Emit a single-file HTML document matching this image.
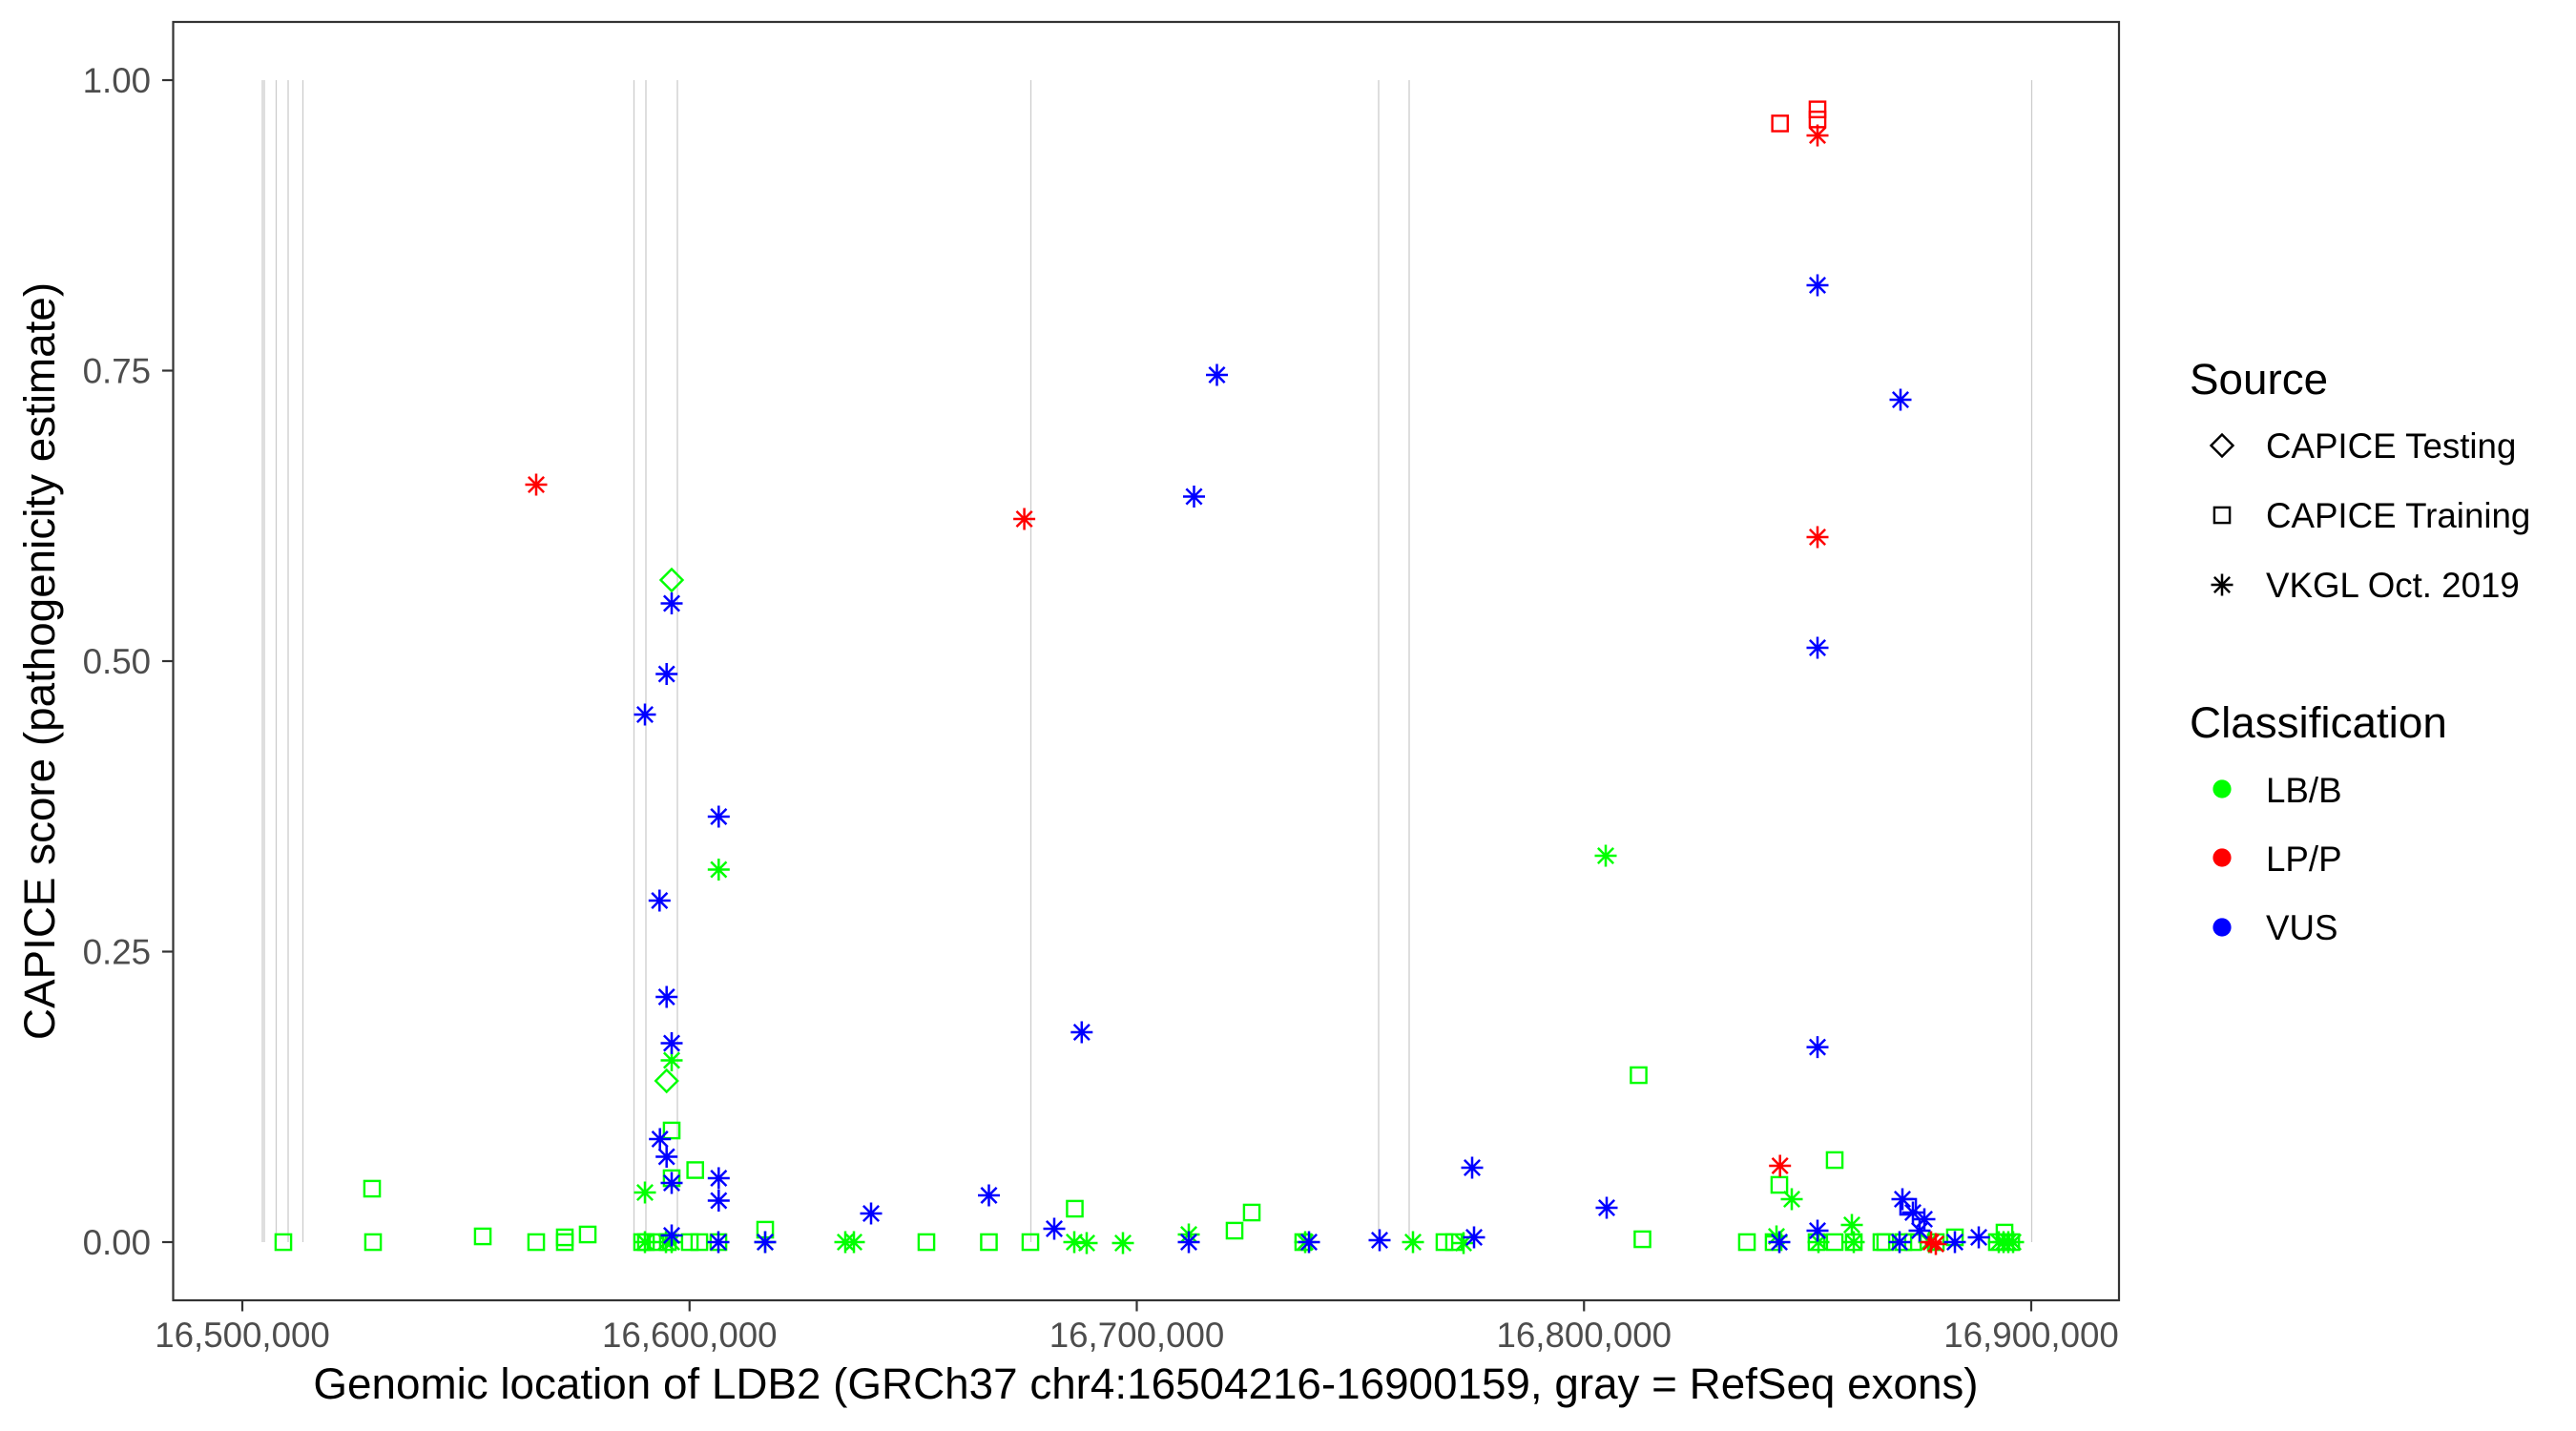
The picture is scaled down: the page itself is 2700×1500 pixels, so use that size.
<!DOCTYPE html>
<html>
<head>
<meta charset="utf-8">
<style>
html,body{margin:0;padding:0;background:#fff;}
svg{display:block;}
text{font-family:"Liberation Sans",Arial,sans-serif;}
</style>
</head>
<body>
<svg width="2700" height="1500" viewBox="0 0 2700 1500" xmlns="http://www.w3.org/2000/svg">
<defs>
<path id="st" d="M-11.5 0H11.5M0 -11.5V11.5M-8.13 -8.13L8.13 8.13M-8.13 8.13L8.13 -8.13" fill="none" stroke-width="2.5"/>
<rect id="sq" x="-8.1" y="-8.1" width="16.2" height="16.2" fill="none" stroke-width="2.4"/>
<path id="dm" d="M0 -11.5L11.5 0L0 11.5L-11.5 0Z" fill="none" stroke-width="2.4"/>
</defs>
<rect width="2700" height="1500" fill="#fff"/>

<g stroke="#cccccc" stroke-width="1.3">
<line x1="275" y1="84" x2="275" y2="1302"/>
<line x1="277" y1="84" x2="277" y2="1302"/>
<line x1="289.5" y1="84" x2="289.5" y2="1302"/>
<line x1="302" y1="84" x2="302" y2="1302"/>
<line x1="317.5" y1="84" x2="317.5" y2="1302"/>
<line x1="664.5" y1="84" x2="664.5" y2="1302"/>
<line x1="677" y1="84" x2="677" y2="1302"/>
<line x1="710" y1="84" x2="710" y2="1302"/>
<line x1="1080.5" y1="84" x2="1080.5" y2="1302"/>
<line x1="1445" y1="84" x2="1445" y2="1302"/>
<line x1="1477" y1="84" x2="1477" y2="1302"/>
<line x1="2129.5" y1="84" x2="2129.5" y2="1302"/>
</g>

<g stroke="#00ff00">
<use href="#sq" x="297" y="1302"/>
<use href="#sq" x="390" y="1246"/>
<use href="#sq" x="391" y="1302"/>
<use href="#sq" x="506" y="1296"/>
<use href="#sq" x="562" y="1302"/>
<use href="#sq" x="592" y="1297"/>
<use href="#sq" x="592" y="1302"/>
<use href="#sq" x="616" y="1294"/>
<use href="#sq" x="673" y="1302"/>
<use href="#sq" x="677" y="1302"/>
<use href="#sq" x="687" y="1302"/>
<use href="#sq" x="700" y="1302"/>
<use href="#sq" x="704" y="1185"/>
<use href="#sq" x="704" y="1235"/>
<use href="#sq" x="723" y="1302"/>
<use href="#sq" x="733" y="1302"/>
<use href="#sq" x="728.7" y="1226.5"/>
<use href="#sq" x="753" y="1302"/>
<use href="#sq" x="802" y="1289"/>
<use href="#sq" x="971" y="1302"/>
<use href="#sq" x="1036.5" y="1302"/>
<use href="#sq" x="1080" y="1302"/>
<use href="#sq" x="1126.5" y="1267"/>
<use href="#sq" x="1294" y="1290"/>
<use href="#sq" x="1312" y="1271"/>
<use href="#sq" x="1366" y="1302"/>
<use href="#sq" x="1514" y="1302"/>
<use href="#sq" x="1524" y="1302"/>
<use href="#sq" x="1717.5" y="1127"/>
<use href="#sq" x="1721.5" y="1299"/>
<use href="#sq" x="1831" y="1302"/>
<use href="#sq" x="1859" y="1302"/>
<use href="#sq" x="1865" y="1242"/>
<use href="#sq" x="1904" y="1302"/>
<use href="#sq" x="1923" y="1216"/>
<use href="#sq" x="1923" y="1302"/>
<use href="#sq" x="1943" y="1302"/>
<use href="#sq" x="1972" y="1302"/>
<use href="#sq" x="1976" y="1302"/>
<use href="#sq" x="1995" y="1302"/>
<use href="#sq" x="2005" y="1302"/>
<use href="#sq" x="2029" y="1302"/>
<use href="#sq" x="2049" y="1297"/>
<use href="#sq" x="2093" y="1302"/>
<use href="#sq" x="2101" y="1292"/>
<use href="#sq" x="2108" y="1302"/>
</g>
<g stroke="#ff0000">
<use href="#sq" x="1865.7" y="129.4"/>
<use href="#sq" x="1905" y="114.7"/>
<use href="#sq" x="1905" y="125.2"/>
</g>
<g stroke="#0000ff">
<use href="#sq" x="2000" y="1265"/>
</g>
<g stroke="#00ff00">
<use href="#dm" x="704" y="608"/>
<use href="#dm" x="698.7" y="1133"/>
</g>

<g stroke="#00ff00">
<use href="#st" x="676" y="1250"/>
<use href="#st" x="704" y="1111.5"/>
<use href="#st" x="753.3" y="911.5"/>
<use href="#st" x="676" y="1302"/>
<use href="#st" x="698" y="1302"/>
<use href="#st" x="704" y="1302"/>
<use href="#st" x="802" y="1302"/>
<use href="#st" x="886" y="1302"/>
<use href="#st" x="895" y="1302"/>
<use href="#st" x="1126" y="1302"/>
<use href="#st" x="1139" y="1303"/>
<use href="#st" x="1177" y="1303"/>
<use href="#st" x="1246" y="1294"/>
<use href="#st" x="1368" y="1302"/>
<use href="#st" x="1481" y="1302"/>
<use href="#st" x="1534" y="1303"/>
<use href="#st" x="1683" y="897"/>
<use href="#st" x="1878" y="1257"/>
<use href="#st" x="1862" y="1296"/>
<use href="#st" x="1906" y="1302"/>
<use href="#st" x="1941" y="1284"/>
<use href="#st" x="1943" y="1302"/>
<use href="#st" x="2022" y="1302"/>
<use href="#st" x="2095" y="1302"/>
<use href="#st" x="2100" y="1302"/>
<use href="#st" x="2105" y="1302"/>
<use href="#st" x="2110" y="1302"/>
</g>
<g stroke="#ff0000">
<use href="#st" x="562" y="508"/>
<use href="#st" x="1073.6" y="544"/>
<use href="#st" x="1905" y="142"/>
<use href="#st" x="1905" y="563"/>
<use href="#st" x="1865.7" y="1222"/>
<use href="#st" x="2024" y="1302"/>
<use href="#st" x="2029" y="1304"/>
</g>
<g stroke="#0000ff">
<use href="#st" x="1275.5" y="393"/>
<use href="#st" x="1251.5" y="520.5"/>
<use href="#st" x="1905" y="299"/>
<use href="#st" x="1992" y="419"/>
<use href="#st" x="1905" y="679"/>
<use href="#st" x="1905" y="1097.6"/>
<use href="#st" x="1133.8" y="1082"/>
<use href="#st" x="704" y="632.5"/>
<use href="#st" x="698.7" y="706.5"/>
<use href="#st" x="676" y="749"/>
<use href="#st" x="753.3" y="856"/>
<use href="#st" x="691.3" y="944"/>
<use href="#st" x="698.7" y="1045"/>
<use href="#st" x="704" y="1093.5"/>
<use href="#st" x="691.7" y="1194"/>
<use href="#st" x="698.7" y="1212.5"/>
<use href="#st" x="753.3" y="1235"/>
<use href="#st" x="753.3" y="1258.5"/>
<use href="#st" x="704" y="1240"/>
<use href="#st" x="704" y="1295"/>
<use href="#st" x="753" y="1302"/>
<use href="#st" x="802" y="1302"/>
<use href="#st" x="913" y="1272"/>
<use href="#st" x="1036.5" y="1253"/>
<use href="#st" x="1105" y="1288"/>
<use href="#st" x="1246" y="1302"/>
<use href="#st" x="1372" y="1302"/>
<use href="#st" x="1446" y="1300"/>
<use href="#st" x="1543" y="1224"/>
<use href="#st" x="1545" y="1297"/>
<use href="#st" x="1684" y="1266"/>
<use href="#st" x="1865" y="1302"/>
<use href="#st" x="1905" y="1290"/>
<use href="#st" x="1991" y="1302"/>
<use href="#st" x="1994" y="1257"/>
<use href="#st" x="2005" y="1271"/>
<use href="#st" x="2017" y="1278"/>
<use href="#st" x="2012" y="1290"/>
<use href="#st" x="2049" y="1302"/>
<use href="#st" x="2074" y="1297"/>
</g>

<rect x="181.5" y="23" width="2039.5" height="1340" fill="none" stroke="#333333" stroke-width="2.2"/>

<g stroke="#333333" stroke-width="2.2">
<line x1="170" y1="84" x2="181.5" y2="84"/>
<line x1="170" y1="388.5" x2="181.5" y2="388.5"/>
<line x1="170" y1="693" x2="181.5" y2="693"/>
<line x1="170" y1="997.5" x2="181.5" y2="997.5"/>
<line x1="170" y1="1302" x2="181.5" y2="1302"/>
<line x1="254" y1="1363" x2="254" y2="1374.5"/>
<line x1="722.75" y1="1363" x2="722.75" y2="1374.5"/>
<line x1="1191.5" y1="1363" x2="1191.5" y2="1374.5"/>
<line x1="1660.25" y1="1363" x2="1660.25" y2="1374.5"/>
<line x1="2129" y1="1363" x2="2129" y2="1374.5"/>
</g>

<g fill="#4d4d4d" font-size="36.7">
<text x="158" y="97" text-anchor="end">1.00</text>
<text x="158" y="401.5" text-anchor="end">0.75</text>
<text x="158" y="706" text-anchor="end">0.50</text>
<text x="158" y="1010.5" text-anchor="end">0.25</text>
<text x="158" y="1315" text-anchor="end">0.00</text>
<text x="254" y="1412" text-anchor="middle">16,500,000</text>
<text x="722.75" y="1412" text-anchor="middle">16,600,000</text>
<text x="1191.5" y="1412" text-anchor="middle">16,700,000</text>
<text x="1660.25" y="1412" text-anchor="middle">16,800,000</text>
<text x="2129" y="1412" text-anchor="middle">16,900,000</text>
</g>

<text x="1201" y="1466" text-anchor="middle" font-size="45.8" fill="#000">Genomic location of LDB2 (GRCh37 chr4:16504216-16900159, gray = RefSeq exons)</text>
<text transform="translate(57,693) rotate(-90)" text-anchor="middle" font-size="45.8" fill="#000">CAPICE score (pathogenicity estimate)</text>

<text x="2295" y="413" font-size="45.8" fill="#000">Source</text>
<g stroke="#000">
<use href="#dm" x="2329" y="467"/>
<use href="#sq" x="2329" y="540"/>
<use href="#st" x="2329" y="613"/>
</g>
<g font-size="36.7" fill="#000">
<text x="2375" y="480">CAPICE Testing</text>
<text x="2375" y="553">CAPICE Training</text>
<text x="2375" y="626">VKGL Oct. 2019</text>
</g>

<text x="2295" y="773" font-size="45.8" fill="#000">Classification</text>
<circle cx="2329" cy="827" r="9.6" fill="#00ff00"/>
<circle cx="2329" cy="899" r="9.6" fill="#ff0000"/>
<circle cx="2329" cy="972" r="9.6" fill="#0000ff"/>
<g font-size="36.7" fill="#000">
<text x="2375" y="841">LB/B</text>
<text x="2375" y="913">LP/P</text>
<text x="2375" y="985">VUS</text>
</g>
</svg>
</body>
</html>
